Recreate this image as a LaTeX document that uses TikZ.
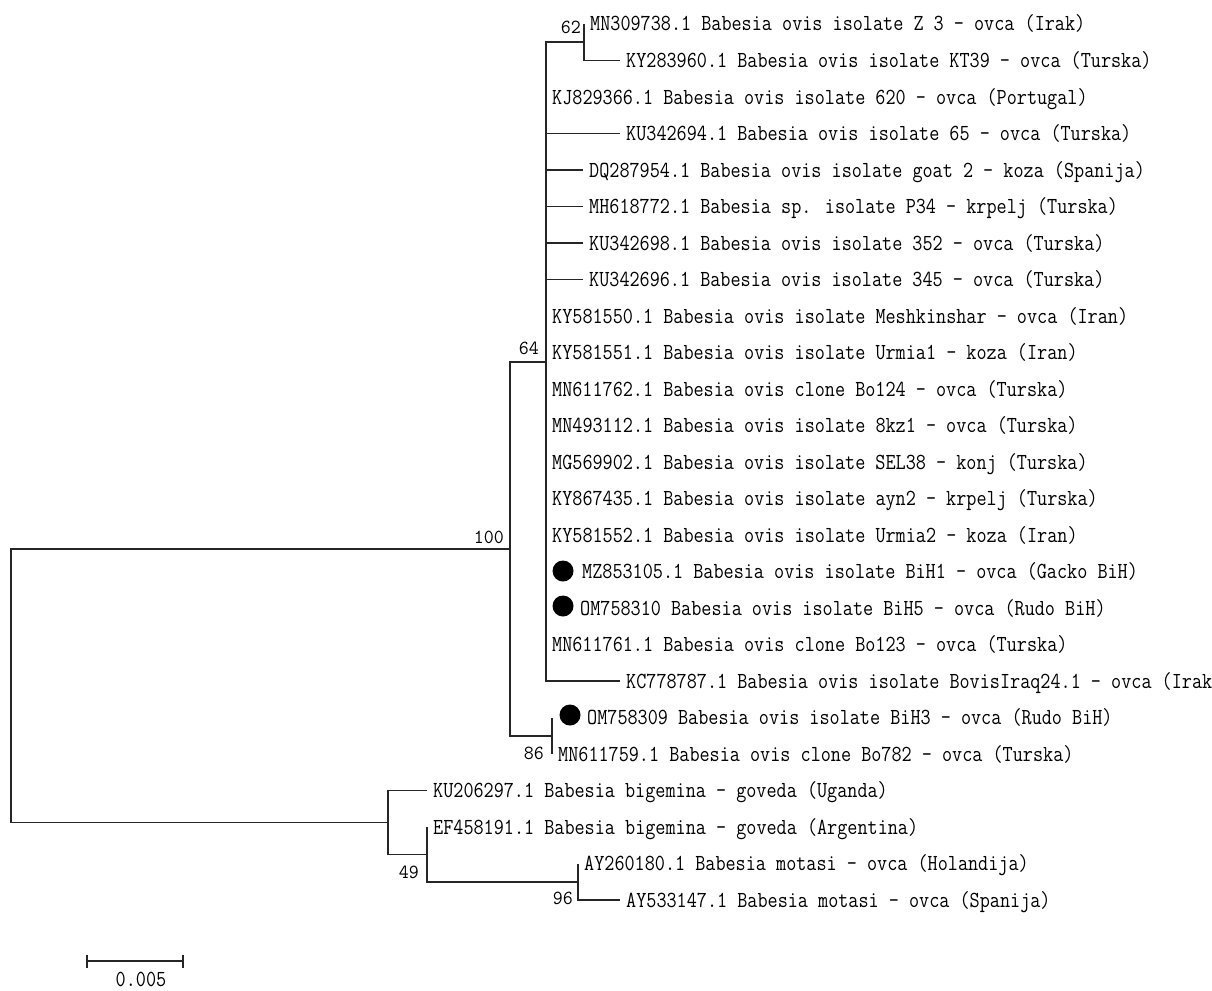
\documentclass[tikz,border=0pt]{standalone}
\usepackage{fontspec}
\newfontfamily\treefont[FakeStretch=0.853]{Latin Modern Mono}
\newfontfamily\bootfont[FakeStretch=0.97]{Latin Modern Mono}
\begin{document}
\begin{tikzpicture}[x=1pt,y=-1pt,
  branch/.style={draw=black!85, line width=1.3pt},
  taxon/.style={anchor=west, inner sep=0pt, text height=14pt, text depth=0pt,
    font=\treefont\fontsize{23}{23}\selectfont, xshift=6pt},
  boot/.style={inner sep=0pt, font=\bootfont\fontsize{20}{20}\selectfont},
  dotmark/.style={circle, fill=black, inner sep=0pt, minimum size=21pt}]
\useasboundingbox (0,0) rectangle (1212,990);
% internal nodes
\coordinate (R) at (11,685.7);
\coordinate (A) at (510,549);
\coordinate (B) at (546,362);
\coordinate (C) at (584,42);
\coordinate (D) at (552,736);
\coordinate (E) at (388,822.5);
\coordinate (F) at (427,854.5);
\coordinate (G) at (578,882);
% leaves
\coordinate (l1) at (584,24);
\coordinate (l2) at (620,60.5);
\coordinate (l3) at (546,97);
\coordinate (l4) at (620,133.5);
\coordinate (l5) at (583,170);
\coordinate (l6) at (583,206.5);
\coordinate (l7) at (583,243);
\coordinate (l8) at (583,279.5);
\coordinate (l9) at (546,316);
\coordinate (l10) at (546,352.5);
\coordinate (l11) at (546,389);
\coordinate (l12) at (546,425.5);
\coordinate (l13) at (546,462);
\coordinate (l14) at (546,498.5);
\coordinate (l15) at (546,535);
\coordinate (l16) at (546,571.5);
\coordinate (l17) at (546,608);
\coordinate (l18) at (546,644.5);
\coordinate (l19) at (620,681);
\coordinate (l20) at (552,717.5);
\coordinate (l21) at (552,754);
\coordinate (l22) at (427,790.5);
\coordinate (l23) at (427,827);
\coordinate (l24) at (578,863.5);
\coordinate (l25) at (620,900);
% branches
\draw[branch] (R) |- (A);
\draw[branch] (R) |- (E);
\draw[branch] (A) |- (B);
\draw[branch] (A) |- (D);
\draw[branch] (B) |- (C);
\draw[branch] (B) |- (l19);
\foreach \i in {3,...,18} {\draw[branch] (B) |- (l\i);}
\draw[branch] (C) |- (l1);
\draw[branch] (C) |- (l2);
\draw[branch] (D) |- (l20);
\draw[branch] (D) |- (l21);
\draw[branch] (E) |- (l22);
\draw[branch] (E) |- (F);
\draw[branch] (F) |- (l23);
\draw[branch] (F) |- (G);
\draw[branch] (G) |- (l24);
\draw[branch] (G) |- (l25);
% taxon labels
\node[taxon] (t1) at (l1) {MN309738.1 Babesia ovis isolate Z 3 - ovca (Irak)};
\node[taxon] (t2) at (l2) {KY283960.1 Babesia ovis isolate KT39 - ovca (Turska)};
\node[taxon] (t3) at (l3) {KJ829366.1 Babesia ovis isolate 620 - ovca (Portugal)};
\node[taxon] (t4) at (l4) {KU342694.1 Babesia ovis isolate 65 - ovca (Turska)};
\node[taxon] (t5) at (l5) {DQ287954.1 Babesia ovis isolate goat 2 - koza (Spanija)};
\node[taxon] (t6) at (l6) {MH618772.1 Babesia sp. isolate P34 - krpelj (Turska)};
\node[taxon] (t7) at (l7) {KU342698.1 Babesia ovis isolate 352 - ovca (Turska)};
\node[taxon] (t8) at (l8) {KU342696.1 Babesia ovis isolate 345 - ovca (Turska)};
\node[taxon] (t9) at (l9) {KY581550.1 Babesia ovis isolate Meshkinshar - ovca (Iran)};
\node[taxon] (t10) at (l10) {KY581551.1 Babesia ovis isolate Urmia1 - koza (Iran)};
\node[taxon] (t11) at (l11) {MN611762.1 Babesia ovis clone Bo124 - ovca (Turska)};
\node[taxon] (t12) at (l12) {MN493112.1 Babesia ovis isolate 8kz1 - ovca (Turska)};
\node[taxon] (t13) at (l13) {MG569902.1 Babesia ovis isolate SEL38 - konj (Turska)};
\node[taxon] (t14) at (l14) {KY867435.1 Babesia ovis isolate ayn2 - krpelj (Turska)};
\node[taxon] (t15) at (l15) {KY581552.1 Babesia ovis isolate Urmia2 - koza (Iran)};
\node[dotmark] (d16) at (563,571) {};
\node[taxon, xshift=-6pt] (t16) at (582,571.5) {MZ853105.1 Babesia ovis isolate BiH1 - ovca (Gacko BiH)};
\node[dotmark] (d17) at (563,606) {};
\node[taxon, xshift=-6pt] (t17) at (580,608) {OM758310 Babesia ovis isolate BiH5 - ovca (Rudo BiH)};
\node[taxon] (t18) at (l18) {MN611761.1 Babesia ovis clone Bo123 - ovca (Turska)};
\node[taxon] (t19) at (l19) {KC778787.1 Babesia ovis isolate BovisIraq24.1 - ovca (Irak};
\node[dotmark] (d20) at (570,715) {};
\node[taxon, xshift=-6pt] (t20) at (587,717.5) {OM758309 Babesia ovis isolate BiH3 - ovca (Rudo BiH)};
\node[taxon] (t21) at (l21) {MN611759.1 Babesia ovis clone Bo782 - ovca (Turska)};
\node[taxon] (t22) at (l22) {KU206297.1 Babesia bigemina - goveda (Uganda)};
\node[taxon] (t23) at (l23) {EF458191.1 Babesia bigemina - goveda (Argentina)};
\node[taxon] (t24) at (l24) {AY260180.1 Babesia motasi - ovca (Holandija)};
\node[taxon] (t25) at (l25) {AY533147.1 Babesia motasi - ovca (Spanija)};
% bootstrap values
\node[boot, anchor=east] (b62) at (581,27) {62};
\node[boot, anchor=east] (b64) at (539,348) {64};
\node[boot, anchor=east] (b100) at (504,537) {100};
\node[boot, anchor=east] (b86) at (544,753) {86};
\node[boot, anchor=east] (b49) at (419,872) {49};
\node[boot, anchor=east] (b96) at (573,898) {96};
% scale bar
\coordinate (s1) at (87,961);
\coordinate (s2) at (183,961);
\draw[branch] (s1) -- (s2);
\draw[branch] ([yshift=6pt]s1) -- ([yshift=-7pt]s1);
\draw[branch] ([yshift=6pt]s2) -- ([yshift=-7pt]s2);
\node[taxon, anchor=center, xshift=0pt] (sc) at (135,979) {0.005};
\end{tikzpicture}
\end{document}
